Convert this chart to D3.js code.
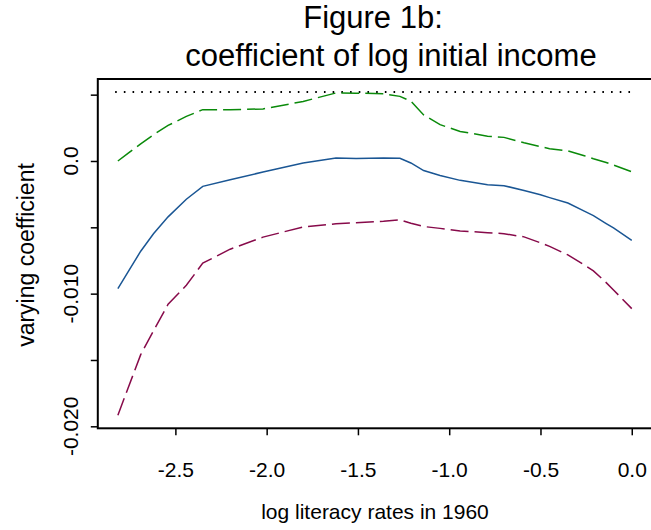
<!DOCTYPE html>
<html>
<head>
<meta charset="utf-8">
<script src="https://d3js.org/d3.v7.min.js"></script>
<style>
  body { margin: 0; background: #fff; }
  svg text { font-family: "Liberation Sans", Arial, sans-serif; fill: #000; }
</style>
</head>
<body>
<div id="chart"></div>
<script>

// ----- data ----- //

var xs = [-2.815, -2.76, -2.69, -2.62, -2.54, -2.44, -2.35, -2.20, -2.02, -1.80, -1.62, -1.51, -1.36, -1.27, -1.21,
          -1.14, -1.05, -0.94, -0.79, -0.70, -0.59, -0.50, -0.45, -0.35, -0.26, -0.21, -0.14, -0.10, 0]

var coef = [-0.00962, -0.00838, -0.00680, -0.00548, -0.00421, -0.00288, -0.00191, -0.00142, -0.00083, -0.00015, 0.00023, 0.00019, 0.00023, 0.00021, -0.00015,
            -0.00072, -0.00109, -0.00146, -0.00180, -0.00186, -0.00223, -0.00254, -0.00276, -0.00317, -0.00378, -0.00412, -0.00472, -0.00505, -0.00598]

var upper = [0.00000, 0.00057, 0.00129, 0.00198, 0.00268, 0.00336, 0.00387, 0.00387, 0.00392, 0.00449, 0.00513, 0.00511, 0.00507, 0.00487, 0.00451,
             0.00347, 0.00274, 0.00223, 0.00187, 0.00178, 0.00137, 0.00108, 0.00093, 0.00077, 0.00040, 0.00017, -0.00011, -0.00031, -0.00081]

var lower = [-0.01916, -0.01715, -0.01460, -0.01280, -0.01080, -0.00937, -0.00770, -0.00665, -0.00574, -0.00497, -0.00473, -0.00466, -0.00454, -0.00443, -0.00470,
             -0.00494, -0.00508, -0.00527, -0.00541, -0.00548, -0.00572, -0.00617, -0.00644, -0.00708, -0.00783, -0.00828, -0.00917, -0.00972, -0.01113]

var refX = [-2.83, 0]
var refY = [0.0052, 0.0052]

var xTicks = [-2.5, -2.0, -1.5, -1.0, -0.5, 0.0]
var yTicks = [0.005, 0.0, -0.005, -0.010, -0.015, -0.020]
var yLabels = { "0": "0.0", "-0.01": "-0.010", "-0.02": "-0.020" }


// ----- svg, scales ----- //

var svg = d3.select("#chart")
    .append("svg")
    .attr("width", 651)
    .attr("height", 530)

var x = d3.scaleLinear()
    .domain([-2.925, 0.112])
    .range([97.8, 652.2])

var y = d3.scaleLinear()
    .domain([-0.02015, 0.00618])
    .range([428.3, 79])

// box
svg.append("rect")
    .attr("x", x.range()[0])
    .attr("y", y.range()[1])
    .attr("width", x.range()[1] - x.range()[0])
    .attr("height", y.range()[0] - y.range()[1])
    .attr("fill", "none")
    .attr("stroke", "#000")
    .attr("stroke-width", 2)

// x axis
var xAxis = svg.append("g")
    .attr("transform", "translate(0," + y.range()[0] + ")")
    .call(d3.axisBottom(x).tickValues(xTicks).tickSize(7).tickPadding(27).tickFormat(d3.format(".1f")))

xAxis.select(".domain").remove()
xAxis.selectAll("line").attr("stroke-width", 1.5)
xAxis.selectAll("text")
    .style("font-size", "21px")
    .attr("font-family", null)
    .text(function (d) { return d3.format(".1f")(d).replace("−", "-") })

// y axis
var yAxis = svg.append("g")
    .attr("transform", "translate(" + x.range()[0] + ",0)")
    .call(d3.axisLeft(y).tickValues(yTicks).tickSize(7).tickFormat(""))

yAxis.select(".domain").remove()
yAxis.selectAll("line").attr("stroke-width", 1.5)

svg.selectAll(".ylab")
    .data(yTicks.filter(function (d) { return yLabels[String(+d.toFixed(3))] }))
    .enter()
    .append("text")
    .attr("class", "ylab")
    .attr("transform", function (d) { return "translate(78," + y(d) + ") rotate(-90)" })
    .attr("text-anchor", "middle")
    .style("font-size", "21px")
    .text(function (d) { return yLabels[String(+d.toFixed(3))] })


// ----- lines ----- //

var line = d3.line()
    .x(function (d) { return x(d[0]) })
    .y(function (d) { return y(d[1]) })

var series = [
    { xv: refX, yv: refY, color: "#000000", dash: "1.6 7.1", width: 2 },
    { xv: xs, yv: upper, color: "#0a8a0a", dash: "18 6", width: 1.5 },
    { xv: xs, yv: coef, color: "#1a5694", dash: null, width: 1.5 },
    { xv: xs, yv: lower, color: "#870a4a", dash: "18 6", width: 1.5 }
]

svg.selectAll(".series")
    .data(series)
    .enter()
    .append("path")
    .attr("class", "series")
    .attr("fill", "none")
    .attr("stroke", function (d) { return d.color })
    .attr("stroke-width", function (d) { return d.width })
    .attr("stroke-dasharray", function (d) { return d.dash })
    .attr("d", function (d) { return line(d.xv.map(function (v, i) { return [v, d.yv[i]] })) })


// ----- titles ----- //

svg.append("text")
    .attr("x", 373)
    .attr("y", 28)
    .attr("text-anchor", "middle")
    .style("font-size", "31px")
    .text("Figure 1b:")

svg.append("text")
    .attr("x", 391)
    .attr("y", 65.5)
    .attr("text-anchor", "middle")
    .style("font-size", "31px")
    .text("coefficient of log initial income")

svg.append("text")
    .attr("x", 375)
    .attr("y", 519)
    .attr("text-anchor", "middle")
    .style("font-size", "21px")
    .text("log literacy rates in 1960")

svg.append("text")
    .attr("transform", "translate(34,255) rotate(-90)")
    .attr("text-anchor", "middle")
    .style("font-size", "23px")
    .text("varying coefficient")

</script>
</body>
</html>
